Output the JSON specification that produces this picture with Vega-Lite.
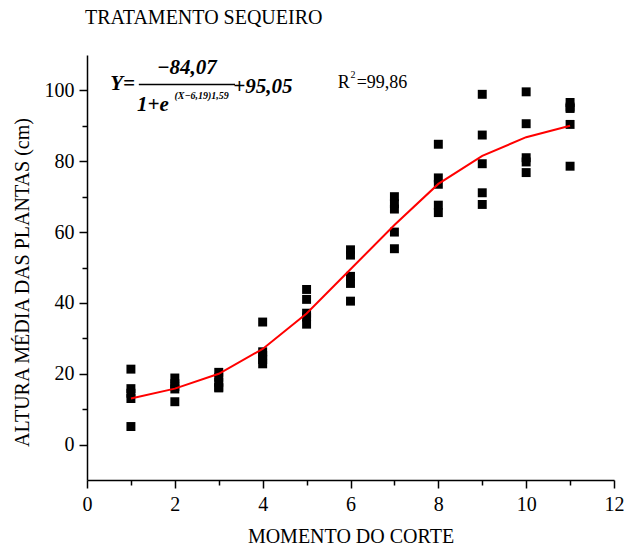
{
  "$schema": "https://vega.github.io/schema/vega-lite/v6.json",
  "autosize": {"type": "none"},
  "width": 527,
  "height": 425,
  "padding": {"left": 87, "top": 55, "right": 10, "bottom": 68},
  "background": "white",
  "config": {
    "view": {"stroke": null},
    "font": "Liberation Serif",
    "axis": {
      "domainColor": "black", "domainWidth": 1.5, "tickColor": "black", "tickWidth": 1.5,
      "labelFont": "Liberation Serif", "labelFontSize": 20, "labelColor": "black",
      "titleFont": "Liberation Serif", "titleFontSize": 20, "titleFontWeight": "normal", "titleColor": "black",
      "grid": false
    }
  },
  "title": {"text": "TRATAMENTO SEQUEIRO", "anchor": "start", "frame": "group", "font": "Liberation Serif", "fontSize": 20, "fontWeight": "normal", "color": "black", "offset": 27, "dx": -2},
  "datasets": {
    "pts": [
      {"x": 1, "y": 21.3}, {"x": 1, "y": 15.8}, {"x": 1, "y": 14.5}, {"x": 1, "y": 13}, {"x": 1, "y": 5.1},
      {"x": 2, "y": 18.8}, {"x": 2, "y": 17.2}, {"x": 2, "y": 15.7}, {"x": 2, "y": 16.4}, {"x": 2, "y": 12.1},
      {"x": 3, "y": 20.4}, {"x": 3, "y": 19}, {"x": 3, "y": 17.6}, {"x": 3, "y": 16.2}, {"x": 3, "y": 16},
      {"x": 4, "y": 34.6}, {"x": 4, "y": 26.2}, {"x": 4, "y": 25.2}, {"x": 4, "y": 24}, {"x": 4, "y": 22.8},
      {"x": 5, "y": 43.8}, {"x": 5, "y": 41}, {"x": 5, "y": 37.1}, {"x": 5, "y": 36}, {"x": 5, "y": 34},
      {"x": 6, "y": 55}, {"x": 6, "y": 53.5}, {"x": 6, "y": 47.5}, {"x": 6, "y": 45.5}, {"x": 6, "y": 40.5},
      {"x": 7, "y": 70}, {"x": 7, "y": 68}, {"x": 7, "y": 66.5}, {"x": 7, "y": 60}, {"x": 7, "y": 55.3},
      {"x": 8, "y": 84.8}, {"x": 8, "y": 75.3}, {"x": 8, "y": 73.5}, {"x": 8, "y": 67.6}, {"x": 8, "y": 65.5},
      {"x": 9, "y": 98.9}, {"x": 9, "y": 87.4}, {"x": 9, "y": 79.3}, {"x": 9, "y": 71.1}, {"x": 9, "y": 67.8},
      {"x": 10, "y": 99.6}, {"x": 10, "y": 90.6}, {"x": 10, "y": 81}, {"x": 10, "y": 79.8}, {"x": 10, "y": 76.8},
      {"x": 11, "y": 96.6}, {"x": 11, "y": 95.3}, {"x": 11, "y": 94.9}, {"x": 11, "y": 90.4}, {"x": 11, "y": 78.6}
    ],
    "fit": [
      {"x": 1, "y": 13}, {"x": 2, "y": 15.8}, {"x": 3, "y": 20}, {"x": 4, "y": 27}, {"x": 5, "y": 37},
      {"x": 6, "y": 49.5}, {"x": 7, "y": 62}, {"x": 8, "y": 73.6}, {"x": 9, "y": 81.5}, {"x": 10, "y": 86.8}, {"x": 11, "y": 90}
    ],
    "one": [{}]
  },
  "layer": [
    {
      "data": {"name": "pts"},
      "mark": {"type": "point", "shape": "square", "filled": true, "color": "black", "opacity": 1, "size": 80},
      "encoding": {
        "x": {"field": "x", "type": "quantitative", "title": "MOMENTO DO CORTE",
          "scale": {"domain": [0, 12], "nice": false, "zero": false},
          "axis": {"values": [0,1,2,3,4,5,6,7,8,9,10,11,12], "labelExpr": "datum.value % 2 === 0 ? datum.label : ''",
            "tickSize": {"condition": {"test": "datum.value % 2 === 0", "value": 8}, "value": 5},
            "labelPadding": 6, "labelFlush": false, "labelOverlap": false, "titleY": 46, "titleBaseline": "top"}},
        "y": {"field": "y", "type": "quantitative", "title": "ALTURA MÉDIA DAS PLANTAS (cm)",
          "scale": {"domain": [-10, 110], "nice": false, "zero": false},
          "axis": {"values": [0,10,20,30,40,50,60,70,80,90,100], "labelExpr": "datum.value % 20 === 0 ? datum.label : ''",
            "tickSize": {"condition": {"test": "datum.value % 20 === 0", "value": 8}, "value": 5},
            "labelPadding": 5, "labelFlush": false, "labelOverlap": false, "titleX": -65, "titleY": 227, "titleAngle": -90, "titleBaseline": "middle"}}
      }
    },
    {
      "data": {"name": "fit"},
      "mark": {"type": "line", "color": "#ff0000", "strokeWidth": 2},
      "encoding": {
        "x": {"field": "x", "type": "quantitative", "title": "MOMENTO DO CORTE"},
        "y": {"field": "y", "type": "quantitative", "title": "ALTURA MÉDIA DAS PLANTAS (cm)"}
      }
    },
    {
      "data": {"name": "one"},
      "mark": {"type": "text", "text": "Y=", "align": "left", "baseline": "middle", "font": "Liberation Serif", "fontSize": 21, "fontStyle": "italic", "fontWeight": "bold", "color": "black"},
      "encoding": {"x": {"datum": 0.53}, "y": {"datum": 101.7}}
    },
    {
      "data": {"name": "one"},
      "mark": {"type": "text", "text": "−84,07", "align": "center", "baseline": "middle", "font": "Liberation Serif", "fontSize": 21, "fontStyle": "italic", "fontWeight": "bold", "color": "black"},
      "encoding": {"x": {"datum": 2.27}, "y": {"datum": 106.4}}
    },
    {
      "data": {"name": "one"},
      "mark": {"type": "rule", "color": "black", "strokeWidth": 1.5},
      "encoding": {"x": {"datum": 1.18}, "x2": {"datum": 3.37}, "y": {"datum": 101.7}}
    },
    {
      "data": {"name": "one"},
      "mark": {"type": "text", "text": "1+e", "align": "left", "baseline": "middle", "font": "Liberation Serif", "fontSize": 21, "fontStyle": "italic", "fontWeight": "bold", "color": "black"},
      "encoding": {"x": {"datum": 1.14}, "y": {"datum": 95.8}}
    },
    {
      "data": {"name": "one"},
      "mark": {"type": "text", "text": "(X−6,19)1,59", "align": "left", "baseline": "middle", "font": "Liberation Serif", "fontSize": 10, "fontStyle": "italic", "fontWeight": "bold", "color": "black"},
      "encoding": {"x": {"datum": 1.99}, "y": {"datum": 98.4}}
    },
    {
      "data": {"name": "one"},
      "mark": {"type": "text", "text": "+95,05", "align": "left", "baseline": "middle", "font": "Liberation Serif", "fontSize": 21, "fontStyle": "italic", "fontWeight": "bold", "color": "black"},
      "encoding": {"x": {"datum": 3.33}, "y": {"datum": 101.1}}
    },
    {
      "data": {"name": "one"},
      "mark": {"type": "text", "text": "R", "align": "left", "baseline": "alphabetic", "font": "Liberation Serif", "fontSize": 18, "color": "black"},
      "encoding": {"x": {"datum": 5.71}, "y": {"datum": 100.6}}
    },
    {
      "data": {"name": "one"},
      "mark": {"type": "text", "text": "2", "align": "left", "baseline": "alphabetic", "font": "Liberation Serif", "fontSize": 10, "color": "black"},
      "encoding": {"x": {"datum": 6.0}, "y": {"datum": 103.6}}
    },
    {
      "data": {"name": "one"},
      "mark": {"type": "text", "text": "=99,86", "align": "left", "baseline": "alphabetic", "font": "Liberation Serif", "fontSize": 18, "color": "black"},
      "encoding": {"x": {"datum": 6.14}, "y": {"datum": 100.6}}
    }
  ]
}
